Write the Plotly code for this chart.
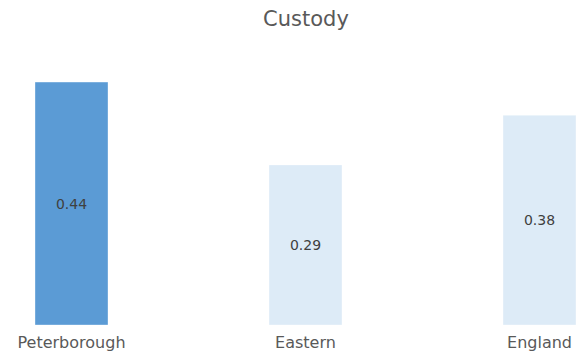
import plotly.graph_objects as go

# Custody rates by area
areas = ["Peterborough", "Eastern", "England"]
custody = [0.44, 0.29, 0.38]
bar_colors = ["#5B9BD5", "#DDEBF7", "#DDEBF7"]

fig = go.Figure(
    go.Bar(
        x=list(range(len(areas))),
        y=custody,
        width=0.312,
        marker=dict(color=bar_colors, line=dict(color="rgba(255,255,255,0.35)", width=1)),
        text=[f"{v:.2f}" for v in custody],
        textposition="inside",
        insidetextanchor="middle",
        textangle=0,
        textfont=dict(family="DejaVu Sans", size=14, color="#404040"),
        hoverinfo="skip",
    )
)

fig.update_layout(
    width=579,
    height=354,
    margin=dict(l=0, r=0, t=40, b=29),
    paper_bgcolor="white",
    plot_bgcolor="white",
    showlegend=False,
    title=dict(
        text="Custody",
        x=306 / 579,
        xanchor="center",
        y=1 - 19 / 354,
        yanchor="middle",
        font=dict(family="DejaVu Sans", size=21, color="#595959"),
    ),
    xaxis=dict(
        range=[-71.5 / 234, (579 - 71.5) / 234],
        tickmode="array",
        tickvals=list(range(len(areas))),
        ticktext=areas,
        showgrid=False,
        zeroline=False,
        showline=False,
        ticks="",
        ticklabelstandoff=6,
        tickfont=dict(family="DejaVu Sans", size=16, color="#595959"),
        fixedrange=True,
    ),
    yaxis=dict(
        range=[0, 285 / 552],
        visible=False,
        fixedrange=True,
    ),
)

fig.write_html("out.html")
